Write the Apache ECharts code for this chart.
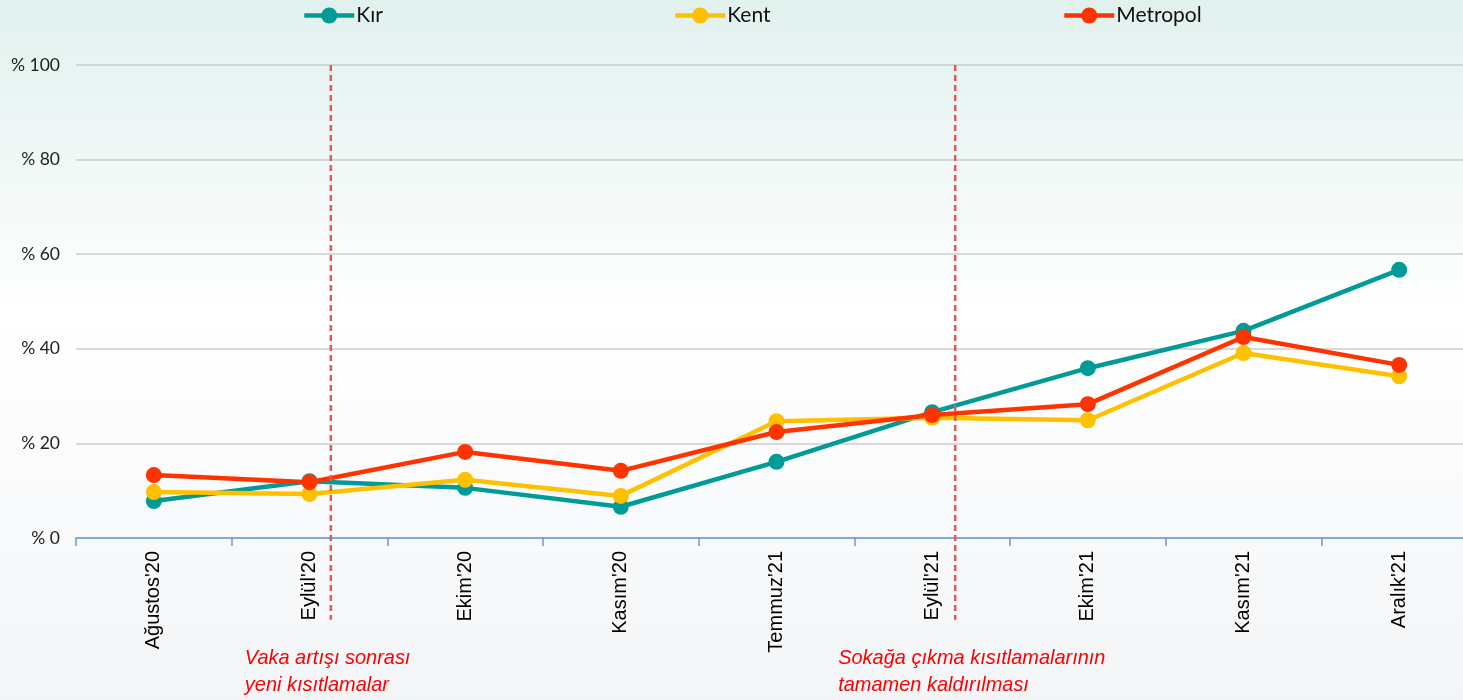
<!DOCTYPE html>
<html>
<head>
<meta charset="utf-8">
<script src="https://cdn.jsdelivr.net/npm/echarts@6/dist/echarts.min.js"></script>
<style>
  html, body { margin: 0; padding: 0; }
  #main { width: 1463px; height: 700px; }
</style>
</head>
<body>
<div id="main"></div>
<script>
// veriler
var months = ["Ağustos'20", "Eylül'20", "Ekim'20", "Kasım'20", "Temmuz'21", "Eylül'21", "Ekim'21", "Kasım'21", "Aralık'21"];
var kir      = [7.8, 12.0, 10.6, 6.6, 16.1, 26.6, 35.9, 43.8, 56.7];
var kent     = [9.7, 9.3, 12.3, 8.9, 24.7, 25.4, 24.9, 39.1, 34.2];
var metropol = [13.3, 11.8, 18.2, 14.2, 22.4, 26.0, 28.3, 42.5, 36.6];
// dikey notlar (kategori ekseni üzerindeki konum)
var noteAt   = [1.137, 5.148];
var noteText = ['Vaka artışı sonrası\nyeni kısıtlamalar', 'Sokağa çıkma kısıtlamalarının\ntamamen kaldırılması'];

var myChart = echarts.init(document.getElementById('main'));

function mkSeries(name, color, data) {
    return {
        name: name,
        type: 'line',
        data: data,
        symbol: 'circle',
        symbolSize: 16,
        lineStyle: { width: 4.5, color: color },
        itemStyle: { color: color },
        z: 3
    };
}

function mkLegend(name, left) {
    return {
        data: [name],
        left: left,
        top: 0,
        itemWidth: 50,
        itemHeight: 20,
        itemGap: 0,
        lineStyle: { width: 4.5 },
        textStyle: { fontFamily: 'Lato', fontSize: 21, color: '#111', padding: [0, 0, 0, -3] }
    };
}

var option = {
    backgroundColor: new echarts.graphic.LinearGradient(0, 0, 0, 1, [
        { offset: 0, color: '#e1f1ee' },
        { offset: 0.45, color: '#ffffff' },
        { offset: 1, color: '#f3f5f7' }
    ]),
    animation: false,
    legend: [
        mkLegend('Kır', 297),
        mkLegend('Kent', 668),
        mkLegend('Metropol', 1057)
    ],
    grid: { left: 76, width: 1401, top: 65, bottom: 162, outerBoundsMode: 'none' },
    xAxis: [
        {
            type: 'category',
            data: months,
            boundaryGap: true,
            axisLine: { lineStyle: { color: '#6f95d8', width: 1.5 } },
            axisTick: { show: true, length: 8, lineStyle: { color: '#6f95d8', width: 1.5 } },
            axisLabel: {
                rotate: 90,
                margin: 13,
                fontFamily: 'Liberation Sans',
                fontSize: 20,
                color: '#000'
            }
        },
        { type: 'value', min: -0.5, max: 8.5, show: false }
    ],
    yAxis: {
        type: 'value',
        min: 0,
        max: 100,
        interval: 20,
        axisLine: { show: false },
        axisTick: { show: false },
        splitLine: { lineStyle: { color: '#cccccc', width: 1.5 } },
        axisLabel: {
            formatter: '% {value}',
            margin: 16,
            fontFamily: 'Lato',
            fontSize: 17.5,
            color: '#222'
        }
    },
    series: [
        mkSeries('Kır', '#009b96', kir),
        mkSeries('Kent', '#ffc000', kent),
        mkSeries('Metropol', '#ff3300', metropol)
    ]
};

myChart.setOption(option);

// kesikli çizgiler ve notlar
var yTop = myChart.convertToPixel({ yAxisIndex: 0 }, 100);
var yBottom = myChart.convertToPixel({ yAxisIndex: 0 }, -17.3);
var graphics = [];
noteAt.forEach(function (v, i) {
    var x = myChart.convertToPixel({ xAxisIndex: 1 }, v);
    graphics.push({
        type: 'line',
        shape: { x1: x, y1: yTop, x2: x, y2: yBottom },
        style: { stroke: '#e05a5a', lineWidth: 2.5, lineDash: [6, 4] },
        z: 10
    });
    graphics.push({
        type: 'text',
        x: x + (i === 0 ? -86 : -117),
        y: 645,
        scaleX: 0.95,
        style: {
            text: noteText[i],
            fill: '#ff0000',
            font: 'italic 21px "Liberation Sans Narrow", "Liberation Sans", sans-serif',
            lineHeight: 27
        },
        z: 10
    });
});
myChart.setOption({ graphic: graphics });
</script>
</body>
</html>
